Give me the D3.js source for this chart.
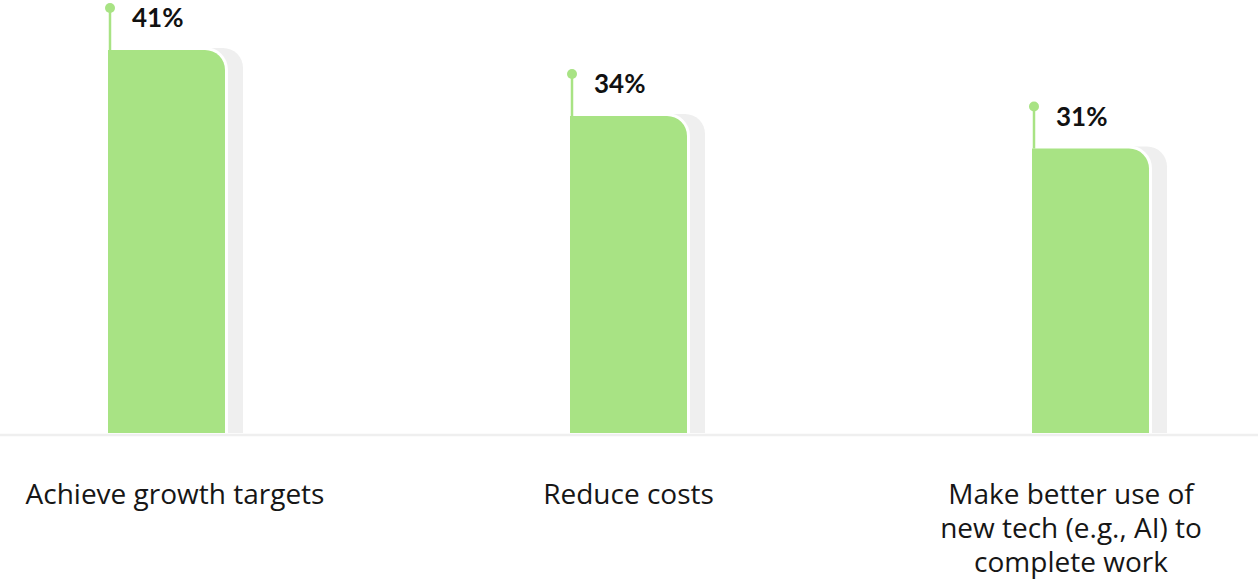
<!DOCTYPE html>
<html>
<head>
<meta charset="utf-8">
<script src="https://cdn.jsdelivr.net/npm/d3@7"></script>
<style>
  body { margin: 0; background: #fff; }
  svg { display: block; }
</style>
</head>
<body>
<script>
// chart data
var categories = ["Achieve growth targets", "Reduce costs", "Make better use of new tech (e.g., AI) to complete work"];
var labelLines = [["Achieve growth targets"], ["Reduce costs"], ["Make better use of", "new tech (e.g., AI) to", "complete work"]];
var values = [41.2, 34.1, 30.6];

var width = 1258;
var height = 580;
var baseline = 433;
var barWidth = 117;
var green = "#a8e384";
var shadow = "#efefef";

var svg = d3.select("body").append("svg").attr("width", width).attr("height", height);

var x = d3.scalePoint().domain(categories).range([166.5, 1090.5]);
var y = d3.scaleLinear().domain([0, 41.2]).range([baseline, 50]);

// rect with only the top-right corner rounded
function barPath(x0, y0, w, h, r) {
  return "M" + x0 + "," + (y0 + h) +
         "V" + y0 +
         "H" + (x0 + w - r) +
         "A" + r + "," + r + " 0 0 1 " + (x0 + w) + "," + (y0 + r) +
         "V" + (y0 + h) + "Z";
}

var data = categories.map(function(c, i) { return {cat: c, value: values[i], lines: labelLines[i]}; });

var g = svg.selectAll("g.bar")
  .data(data)
  .enter().append("g")
  .attr("class", "bar");

// grey shadow bar behind
g.append("path")
  .attr("d", function(d) {
    var bx = x(d.cat) - barWidth / 2 + 18;
    var by = y(d.value) - 2;
    return barPath(bx, by, barWidth, baseline - by, 20);
  })
  .attr("fill", shadow);

// green bar with white halo
g.append("path")
  .attr("d", function(d) {
    var bx = x(d.cat) - barWidth / 2;
    var by = y(d.value);
    return barPath(bx, by, barWidth, baseline - by, 20);
  })
  .attr("fill", green)
  .attr("stroke", "#fff")
  .attr("stroke-width", 6)
  .attr("paint-order", "stroke");

// pin marker
g.append("line")
  .attr("x1", function(d) { return x(d.cat) - barWidth / 2 + 2; })
  .attr("x2", function(d) { return x(d.cat) - barWidth / 2 + 2; })
  .attr("y1", function(d) { return y(d.value) - 42; })
  .attr("y2", function(d) { return y(d.value); })
  .attr("stroke", green)
  .attr("stroke-width", 2.5);

g.append("circle")
  .attr("cx", function(d) { return x(d.cat) - barWidth / 2 + 2; })
  .attr("cy", function(d) { return y(d.value) - 42; })
  .attr("r", 5)
  .attr("fill", green);

g.append("text")
  .attr("x", function(d) { return x(d.cat) - barWidth / 2 + 24; })
  .attr("y", function(d) { return y(d.value) - 23; })
  .attr("font-family", "Lato, sans-serif")
  .attr("font-weight", 700)
  .attr("font-size", 26)
  .attr("fill", "#111")
  .text(function(d) { return Math.round(d.value) + "%"; });

// baseline
svg.append("line")
  .attr("x1", 0).attr("x2", width)
  .attr("y1", baseline + 2).attr("y2", baseline + 2)
  .attr("stroke", "#efefef")
  .attr("stroke-width", 2.5);

// category labels, boxes kept inside the page
var half = 175;
g.append("text")
  .attr("font-family", "'Open Sans', sans-serif")
  .attr("font-size", 28)
  .attr("fill", "#161616")
  .attr("text-anchor", "middle")
  .each(function(d) {
    var cx = Math.max(half, Math.min(x(d.cat), width - 12 - half));
    d3.select(this).selectAll("tspan")
      .data(d.lines)
      .enter().append("tspan")
      .attr("x", cx)
      .attr("y", function(l, i) { return 504 + i * 34; })
      .text(function(l) { return l; });
  });
</script>
</body>
</html>
